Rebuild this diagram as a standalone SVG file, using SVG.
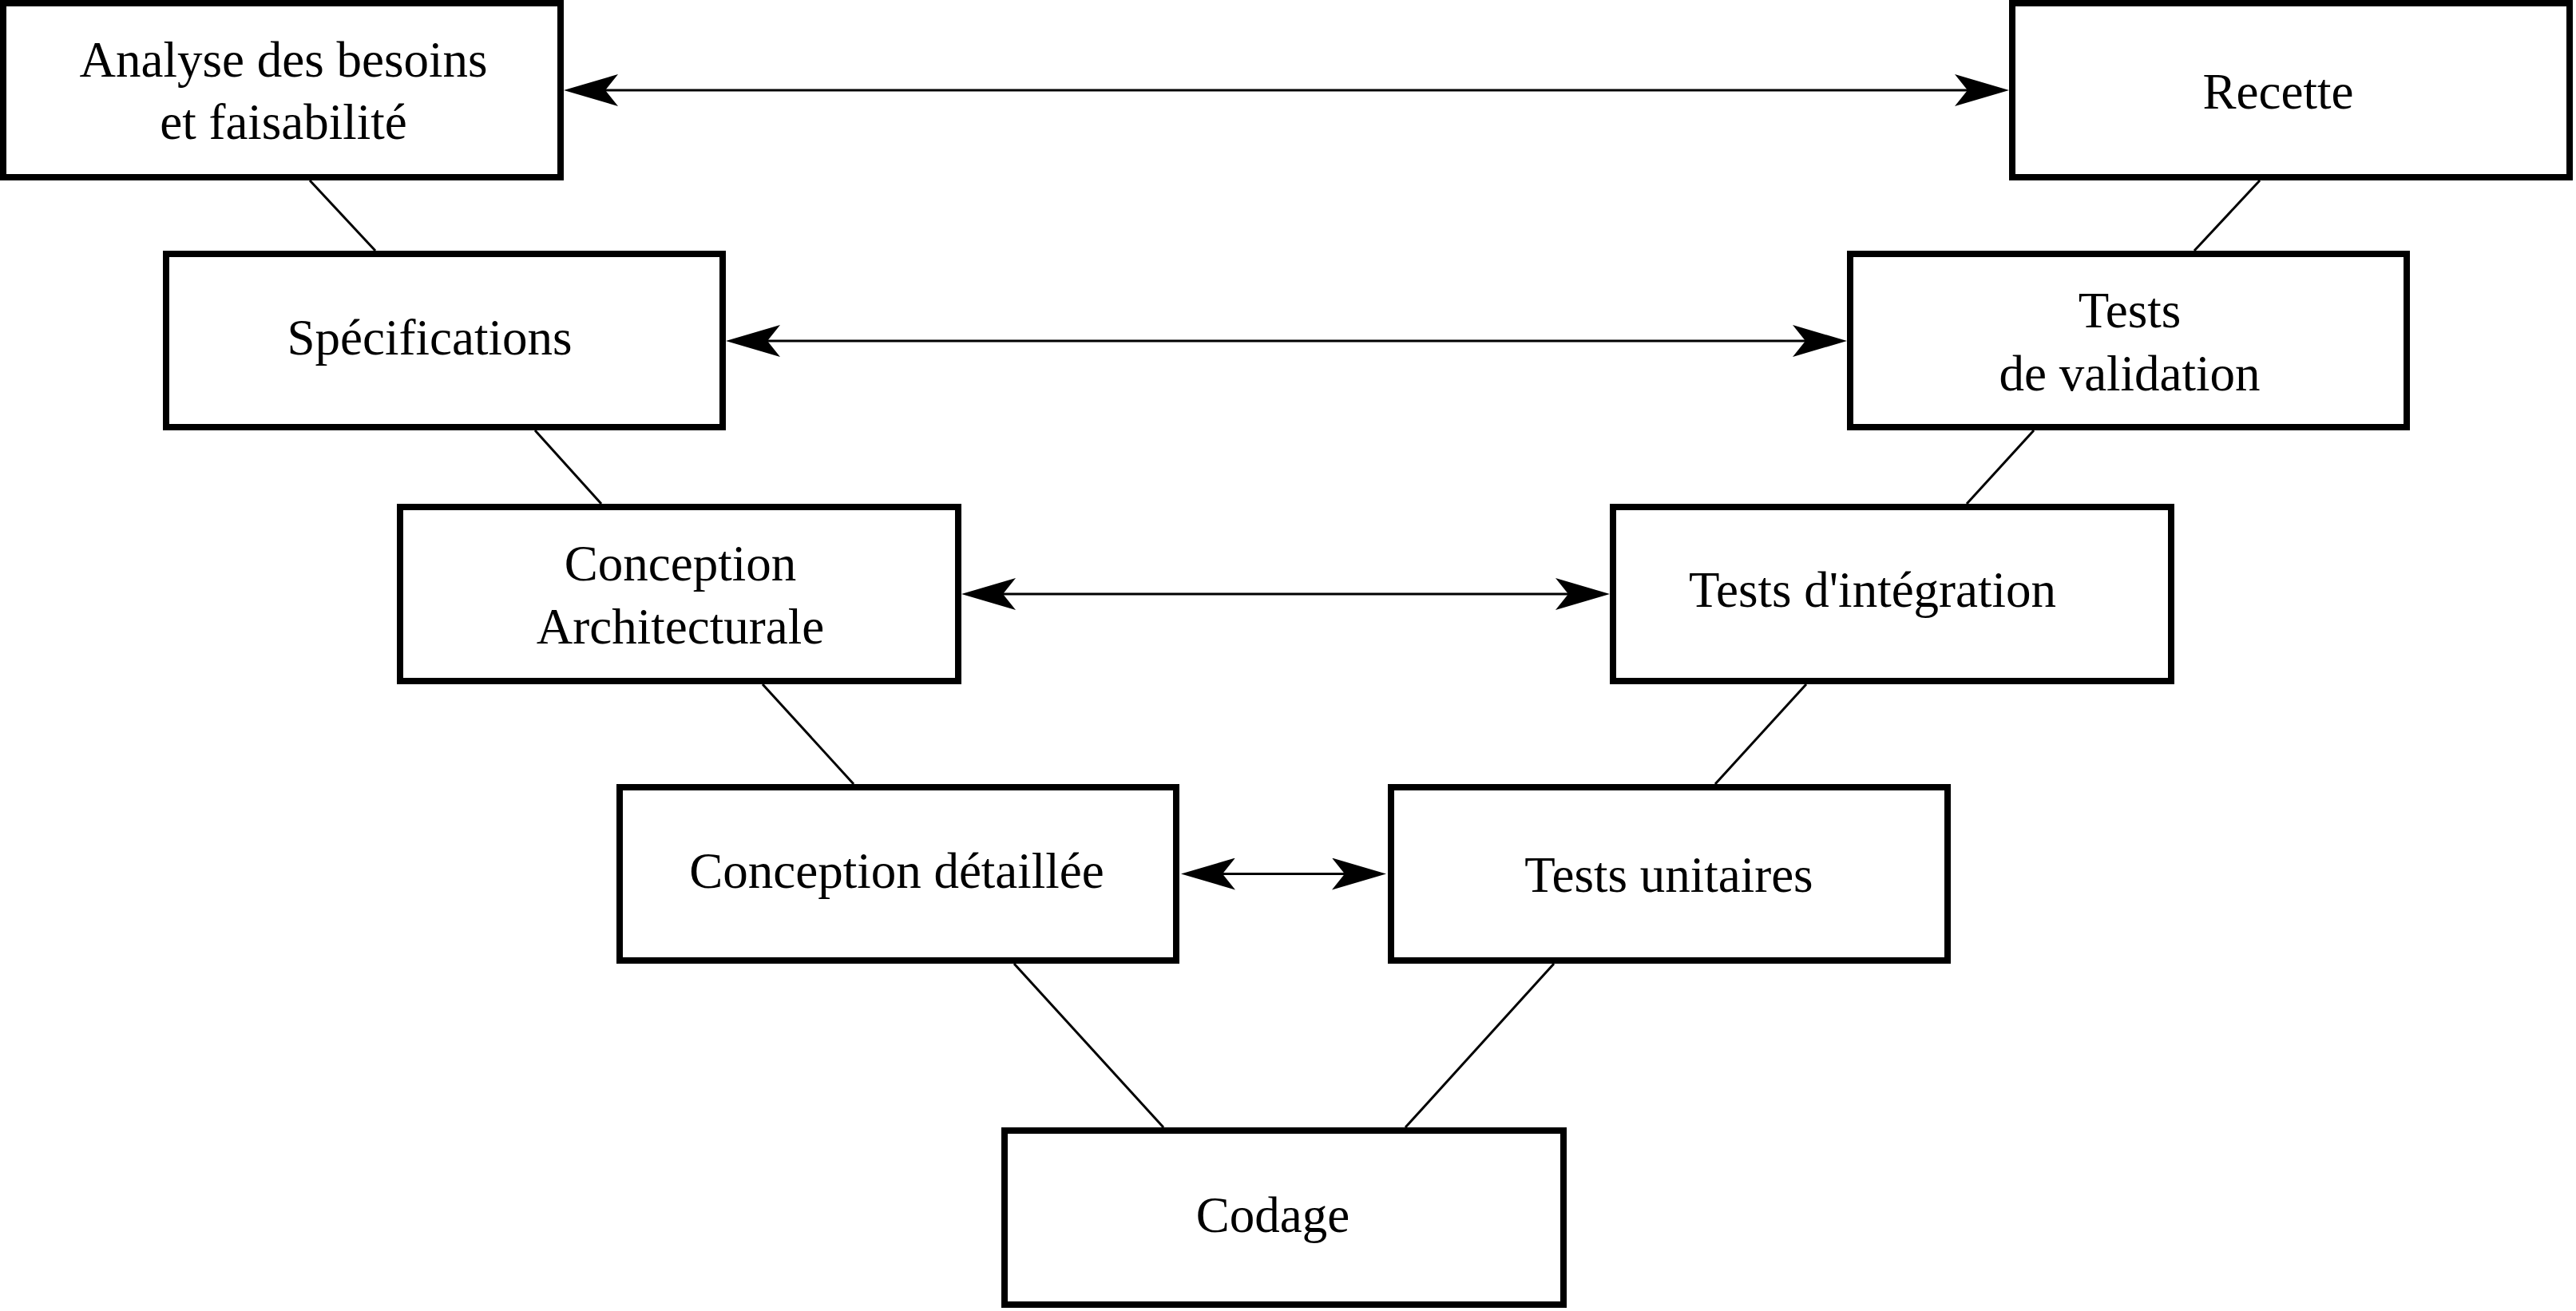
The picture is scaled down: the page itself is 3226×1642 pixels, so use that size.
<svg xmlns="http://www.w3.org/2000/svg" width="3226" height="1642" viewBox="0 0 3226 1642">
<style>
  .box rect { fill: #fff; stroke: #000; stroke-width: 8; }
  .box text { font-family: "Liberation Serif", "Times New Roman", serif; font-size: 63px; fill: #000; text-anchor: middle; }
  .conn line { stroke: #000; stroke-width: 3; fill: none; }
  .conn .arrow { marker-start: url(#head); marker-end: url(#head); }
</style>
<defs>
  <marker id="head" viewBox="0 0 68 40" refX="58" refY="20" markerWidth="68" markerHeight="40" markerUnits="userSpaceOnUse" orient="auto-start-reverse">
    <path d="M68,20 L0,0 L16,20 L0,40 Z" fill="#000"/>
  </marker>
</defs>
<rect width="3226" height="1642" fill="#fff"/>
<g id="connectors" class="conn">
  <line x1="388" y1="226" x2="470" y2="314"/>
  <line x1="670" y1="539" x2="753" y2="631"/>
  <line x1="955" y1="857" x2="1069" y2="982"/>
  <line x1="1270" y1="1207" x2="1457" y2="1412"/>
  <line x1="1760" y1="1412" x2="1946" y2="1207"/>
  <line x1="2148" y1="982" x2="2262" y2="857"/>
  <line x1="2463" y1="631" x2="2547" y2="539"/>
  <line x1="2748" y1="314" x2="2830" y2="226"/>
  <line class="arrow" x1="716" y1="113" x2="2506" y2="113"/>
  <line class="arrow" x1="919" y1="427" x2="2303" y2="427"/>
  <line class="arrow" x1="1214" y1="744" x2="2006" y2="744"/>
  <line class="arrow" x1="1489" y1="1094.5" x2="1726" y2="1094.5"/>
</g>
<g id="analyse" class="box">
  <rect x="4" y="4" width="698" height="218"/>
  <text x="355" y="96">Analyse des besoins</text>
  <text x="355" y="174">et faisabilité</text>
</g>
<g id="specifications" class="box">
  <rect x="208" y="318" width="697" height="217"/>
  <text x="538" y="444">Spécifications</text>
</g>
<g id="conception-architecturale" class="box">
  <rect x="501" y="635" width="699" height="218"/>
  <text x="852" y="727">Conception</text>
  <text x="852" y="806">Architecturale</text>
</g>
<g id="conception-detaillee" class="box">
  <rect x="776" y="986" width="697" height="217"/>
  <text x="1123" y="1112">Conception détaillée</text>
</g>
<g id="codage" class="box">
  <rect x="1258" y="1416" width="700" height="218"/>
  <text x="1594" y="1543">Codage</text>
</g>
<g id="tests-unitaires" class="box">
  <rect x="1742" y="986" width="697" height="217"/>
  <text x="2090" y="1117">Tests unitaires</text>
</g>
<g id="tests-integration" class="box">
  <rect x="2020" y="635" width="699" height="218"/>
  <text x="2345" y="760">Tests d'intégration</text>
</g>
<g id="tests-validation" class="box">
  <rect x="2317" y="318" width="697" height="217"/>
  <text x="2667" y="410">Tests</text>
  <text x="2667" y="489">de validation</text>
</g>
<g id="recette" class="box">
  <rect x="2520" y="4" width="698" height="218"/>
  <text x="2853" y="136">Recette</text>
</g>
</svg>
